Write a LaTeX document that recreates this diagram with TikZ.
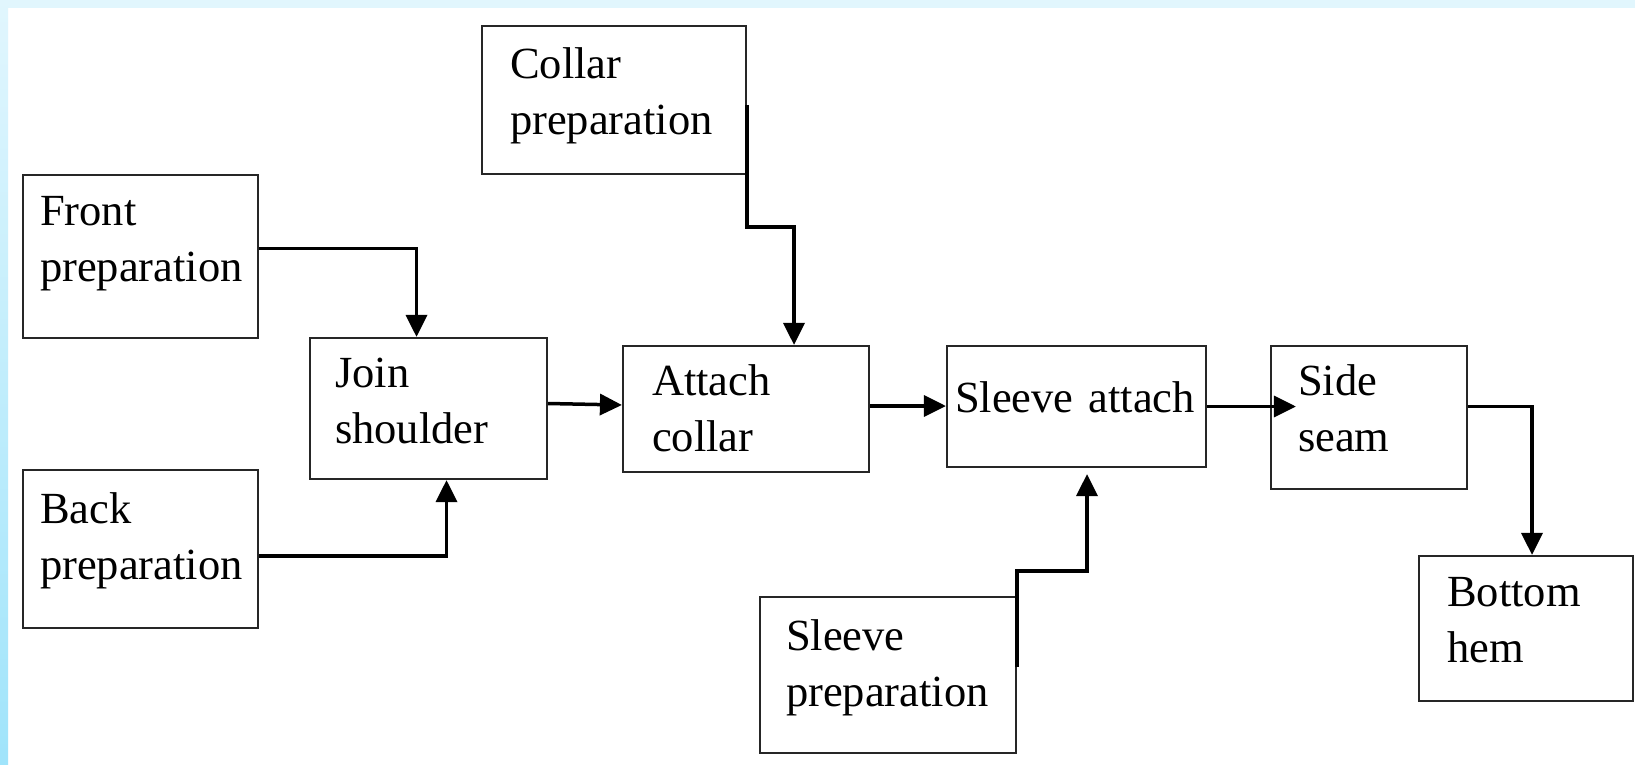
\documentclass[tikz,border=0pt]{standalone}
\usepackage{fontspec}
\setmainfont{Liberation Serif}
\usetikzlibrary{arrows.meta,positioning,calc}

\definecolor{frametop}{RGB}{225,246,253}
\definecolor{framelow}{RGB}{160,228,251}

\tikzset{
  stage/.style={draw=black!85, line width=2.2pt, inner sep=0pt},
  stagetext/.style={anchor=base west, inner sep=0pt, align=left, text width=320pt,
    font=\fontsize{44.5}{56}\selectfont},
  flow/.style={line width=3.5pt, -{Triangle[length=22pt,width=21pt]}},
}

\begin{document}
\begin{tikzpicture}[x=1pt,y=-1pt]
    \useasboundingbox (0,0) rectangle (1635,765);
    \fill[white] (0,0) rectangle (1635,765);
    \fill[frametop] (0,0) rectangle (1635,8);
    \shade[top color=frametop, bottom color=framelow] (0,0) rectangle (8,765);

    % Boxes
    \node[stage, minimum width=235pt, minimum height=163pt] (front) at (140.5,256.5) {};
    \node[stage, minimum width=235pt, minimum height=158pt] (back) at (140.5,549) {};
    \node[stage, minimum width=237pt, minimum height=141pt] (join) at (428.5,408.5) {};
    \node[stage, minimum width=264pt, minimum height=148pt] (collar) at (614,100) {};
    \node[stage, minimum width=246pt, minimum height=126pt] (attach) at (746,409) {};
    \node[stage, minimum width=259pt, minimum height=121pt] (sleeveatt) at (1076.5,406.5) {};
    \node[stage, minimum width=196pt, minimum height=143pt] (side) at (1369,417.5) {};
    \node[stage, minimum width=256pt, minimum height=156pt] (sleeveprep) at (888,675) {};
    \node[stage, minimum width=214pt, minimum height=145pt] (hem) at (1526,628.5) {};

    % Labels
    \node[stagetext] (frontlbl) at ([xshift=18pt,yshift=-52pt]front.north west) {Front\\preparation};
    \node[stagetext] (backlbl) at ([xshift=18pt,yshift=-55pt]back.north west) {Back\\preparation};
    \node[stagetext] (joinlbl) at ([xshift=26pt,yshift=-51pt]join.north west) {Join\\shoulder};
    \node[stagetext] (collarlbl) at ([xshift=29pt,yshift=-54pt]collar.north west) {Collar\\preparation};
    \node[stagetext] (attachlbl) at ([xshift=30pt,yshift=-51pt]attach.north west) {Attach\\collar};
    \node[stagetext] (sleeveattlbl) at ([xshift=9pt,yshift=-68pt]sleeveatt.north west) {Sleeve attach};
    \node[stagetext] (sidelbl) at ([xshift=28pt,yshift=-51pt]side.north west) {Side\\seam};
    \node[stagetext] (sleevepreplbl) at ([xshift=27pt,yshift=-55pt]sleeveprep.north west) {Sleeve\\preparation};
    \node[stagetext] (hemlbl) at ([xshift=29pt,yshift=-52pt]hem.north west) {Bottom\\hem};

    % Bends
    \coordinate (collarbend) at (794,227);
    \coordinate (sleevebend) at (1087,571);

    % Arrows
    \draw[flow] ([yshift=8pt]front.east) -| ([xshift=-12pt]join.north);
    \draw[flow] ([yshift=-7pt]back.east) -| ([xshift=18pt]join.south);
    \draw[flow] ([yshift=5pt]join.east) -- ([yshift=4pt]attach.west);
    \draw[flow] ([yshift=-5pt]collar.east) |- (collarbend) -- (collarbend |- attach.north);
    \draw[flow] ([yshift=3pt]attach.east) -- ([yshift=3pt]attach.east -| sleeveatt.west);
    \draw[flow] ([yshift=8pt]sleeveprep.east) |- (sleevebend) -- ([yshift=-6pt]sleevebend |- sleeveatt.south);
    \draw[flow] (sleeveatt.east) -- ([xshift=26pt]sleeveatt.east -| side.west);
    \draw[flow] ([yshift=11pt]side.east) -| ([xshift=6pt]hem.north);
\end{tikzpicture}
\end{document}
